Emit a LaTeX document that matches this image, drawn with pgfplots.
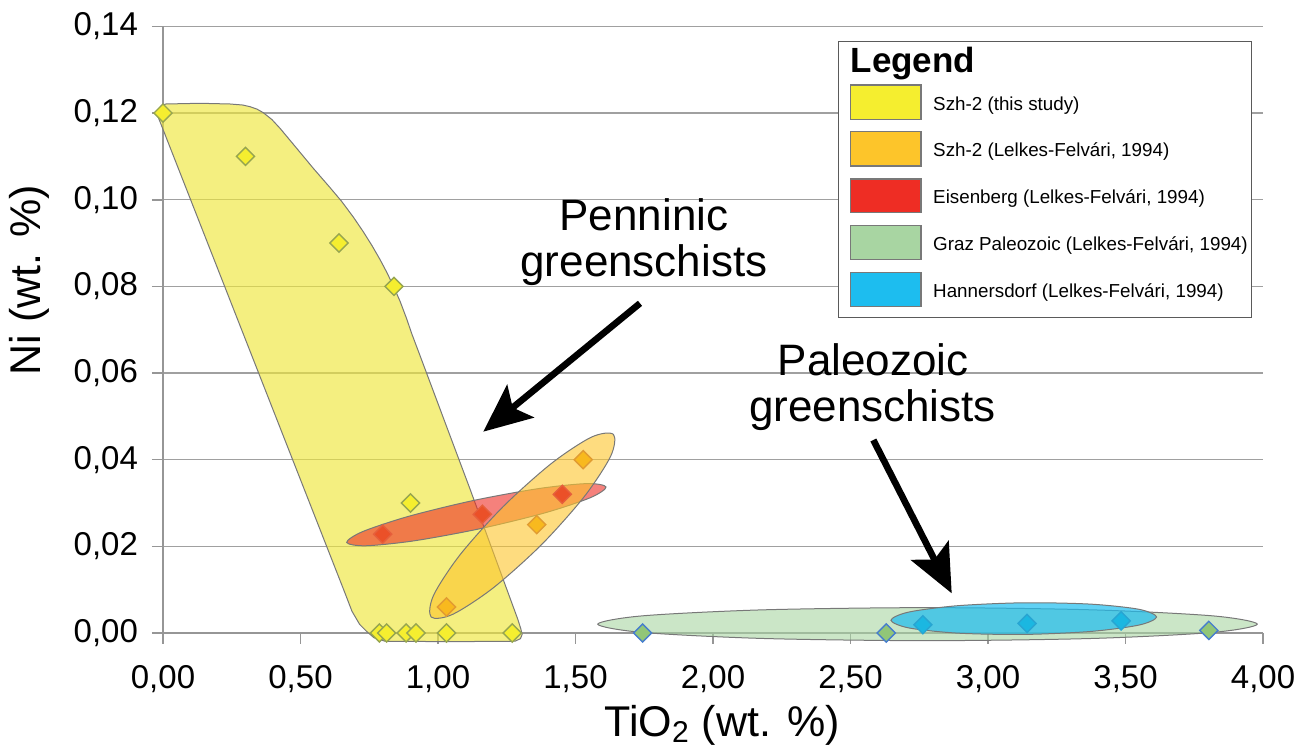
\documentclass[border=0pt]{standalone}
\usepackage{pgfplots}
\pgfplotsset{compat=1.18}
\usepackage{fontspec}
\setmainfont{Liberation Sans}
\usetikzlibrary{arrows.meta}
\definecolor{cYel}{RGB}{245,238,47}
\definecolor{cYelR}{RGB}{238,230,60}
\definecolor{cOra}{RGB}{253,197,42}
\definecolor{cRed}{RGB}{238,45,36}
\definecolor{cGrn}{RGB}{168,213,162}
\definecolor{cBlu}{RGB}{29,189,239}
\definecolor{axgray}{RGB}{150,150,150}
\definecolor{edgegray}{RGB}{120,120,120}
\begin{document}
\begin{tikzpicture}
\begin{axis}[
  name=ax, scale only axis, width=550pt, height=303.3pt,
  xmin=0, xmax=4, ymin=0, ymax=0.14,
  xtick={0,0.5,1,1.5,2,2.5,3,3.5,4},
  ytick={0,0.02,0.04,0.06,0.08,0.10,0.12,0.14},
  axis x line*=bottom, axis y line*=left,
  axis line style={draw=axgray, line width=0.8pt},
  ymajorgrids, grid style={draw=axgray!90, line width=0.75pt},
  tick align=outside, major tick length=5.5pt,
  tick style={draw=axgray, line width=0.8pt},
  ticklabel style={font=\fontsize{16.5}{19}\selectfont},
  xticklabel style={yshift=-7pt},
  yticklabel style={xshift=-3.5pt},
  /pgf/number format/.cd, fixed, fixed zerofill, precision=2, use comma, assume math mode=true,
  /pgfplots/.cd,
  xlabel={TiO\textsubscript{2} (wt. \%)},
  ylabel={Ni (wt. \%)},
  xlabel style={font=\fontsize{21.5}{25}\selectfont, at={(axis description cs:0.5082,-0.1698)}, anchor=base},
  ylabel style={font=\fontsize{21.5}{25}\selectfont, at={(axis description cs:-0.1218,0.582)}, anchor=center},
  clip=false,
]
% Szh-2 (this study) field
\addplot[line join=round, draw=edgegray, line width=0.5pt, fill=cYelR, fill opacity=0.65] coordinates {
 (-0.0229,0.11994) (-0.0150,0.1210) (-0.0050,0.1218) (0.0109,0.12209) (0.1345,0.12225) (0.2436,0.12209)
 (0.2900,0.12185) (0.3164,0.12147) (0.3420,0.12090) (0.3647,0.12008) (0.3960,0.11850) (0.4255,0.11648)
 (0.4862,0.11186) (0.5465,0.10725) (0.6073,0.10280) (0.6498,0.09960) (0.6920,0.09600) (0.7284,0.09260)
 (0.7600,0.08940) (0.7891,0.08620) (0.8150,0.08310) (0.8375,0.08010) (0.8618,0.07660)
 (0.8850,0.07270) (0.9050,0.06900) (0.9300,0.06480) (1.1164,0.03323) (1.2900,0.00320)
 (1.3010,0.00100) (1.3060,-0.0003) (1.3000,-0.0013) (1.2800,-0.0019) (1.0436,-0.0020)
 (0.8073,-0.0019) (0.7673,-0.0011) (0.7400,0.0004) (0.7150,0.0020) (0.6873,0.0050)
 (0.6600,0.0095)} -- cycle;
% Eisenberg field
\addplot[smooth cycle, draw=edgegray, line width=0.5pt, fill=cRed, fill opacity=0.6] coordinates {
 (1.611,0.03369) (1.553,0.03120) (1.385,0.02766) (1.150,0.02403) (0.913,0.02127) (0.737,0.02013)
 (0.668,0.02091) (0.726,0.02340) (0.894,0.02694) (1.128,0.03057) (1.366,0.03333) (1.542,0.03448)};
% Szh-2 (Lelkes-Felvari) field
\addplot[smooth cycle, draw=edgegray, line width=0.5pt, fill=cOra, fill opacity=0.6] coordinates {
 (1.638,0.04583) (1.628,0.04081) (1.532,0.03149) (1.376,0.02036) (1.201,0.01042) (1.054,0.00432)
 (0.975,0.00369) (0.984,0.00872) (1.080,0.01804) (1.237,0.02917) (1.412,0.03911) (1.558,0.04521)};
% Graz Paleozoic field
\addplot[smooth cycle, draw=edgegray, line width=0.5pt, fill=cGrn, fill opacity=0.6] coordinates {
 (3.979,0.00204) (3.818,0.00395) (3.380,0.00534) (2.780,0.00585) (2.180,0.00534) (1.742,0.00395)
 (1.581,0.00204) (1.742,0.00014) (2.180,-0.00126) (2.780,-0.00177) (3.380,-0.00126) (3.818,0.00014)};
% Hannersdorf field
\addplot[smooth cycle, draw=edgegray, line width=0.5pt, fill=cBlu, fill opacity=0.7] coordinates {
 (3.613,0.00370) (3.548,0.00548) (3.371,0.00667) (3.129,0.00697) (2.888,0.00629) (2.711,0.00482)
 (2.647,0.00294) (2.712,0.00117) (2.889,-0.00003) (3.131,-0.00033) (3.372,0.00035) (3.549,0.00183)};
% data points
\addplot[only marks, mark=square*, mark size=3.2pt, mark options={rotate=45, fill=cYel, draw={rgb,255:red,150;green,165;blue,80}, line width=0.7pt}] coordinates {
 (0.00,0.120) (0.30,0.110) (0.64,0.090) (0.84,0.080) (0.90,0.030)
 (0.787,0) (0.813,0) (0.884,0) (0.920,0) (1.031,0) (1.270,0)};
\addplot[only marks, mark=square*, mark size=3.2pt, mark options={rotate=45, fill={rgb,255:red,248;green,185;blue,30}, draw={rgb,255:red,225;green,155;blue,50}, line width=0.7pt}] coordinates {
 (1.031,0.006) (1.359,0.025) (1.528,0.040)};
\addplot[only marks, mark=square*, mark size=3.2pt, mark options={rotate=45, fill={rgb,255:red,235;green,80;blue,40}, draw={rgb,255:red,230;green,95;blue,60}, line width=0.7pt}] coordinates {
 (0.799,0.0228) (1.161,0.0274) (1.452,0.0320)};
\addplot[only marks, mark=square*, mark size=3.2pt, mark options={rotate=45, fill={rgb,255:red,145;green,198;blue,120}, draw={rgb,255:red,70;green,125;blue,205}, line width=0.7pt}] coordinates {
 (1.744,0.0) (2.630,0.0) (3.803,0.0006)};
\addplot[only marks, mark=square*, mark size=3.2pt, mark options={rotate=45, fill={rgb,255:red,27;green,183;blue,225}, draw={rgb,255:red,40;green,165;blue,210}, line width=0.7pt}] coordinates {
 (2.763,0.0019) (3.142,0.0022) (3.484,0.0028)};
% arrows
\addplot[black, line width=3.3pt, -{Stealth[length=24pt,width=21pt,inset=5pt]}] coordinates {(1.7345,0.07609) (1.1647,0.04646)};
\addplot[black, line width=3.3pt, -{Stealth[length=24pt,width=21pt,inset=5pt]}] coordinates {(2.583,0.04454) (2.868,0.00916)};
\node[anchor=base, inner sep=0pt, font=\fontsize{22}{26}\selectfont] at (axis cs:1.749,0.0930) {Penninic};
\node[anchor=base, inner sep=0pt, font=\fontsize{22}{26}\selectfont] at (axis cs:1.749,0.0822) {greenschists};
\node[anchor=base, inner sep=0pt, font=\fontsize{22}{26}\selectfont] at (axis cs:2.583,0.05938) {Paleozoic};
\node[anchor=base, inner sep=0pt, font=\fontsize{22}{26}\selectfont] at (axis cs:2.580,0.04877) {greenschists};
% legend
\addplot[draw={rgb,255:red,90;green,90;blue,90}, line width=0.7pt, fill=white] coordinates {
 (2.456,0.13647) (3.959,0.13647) (3.959,0.07286) (2.456,0.07286)} -- cycle;
\addplot[draw=edgegray, line width=0.6pt, fill=cYel] coordinates {(2.4993,0.12647) (2.7564,0.12647) (2.7564,0.11856) (2.4993,0.11856)} -- cycle;
\addplot[draw=edgegray, line width=0.6pt, fill=cOra] coordinates {(2.4993,0.11570) (2.7564,0.11570) (2.7564,0.10778) (2.4993,0.10778)} -- cycle;
\addplot[draw=edgegray, line width=0.6pt, fill=cRed] coordinates {(2.4993,0.10478) (2.7564,0.10478) (2.7564,0.09700) (2.4993,0.09700)} -- cycle;
\addplot[draw=edgegray, line width=0.6pt, fill=cGrn] coordinates {(2.4993,0.09400) (2.7564,0.09400) (2.7564,0.08625) (2.4993,0.08625)} -- cycle;
\addplot[draw=edgegray, line width=0.6pt, fill=cBlu] coordinates {(2.4993,0.08324) (2.7564,0.08324) (2.7564,0.07531) (2.4993,0.07531)} -- cycle;
\node[anchor=base west, inner sep=0pt, font=\fontsize{17.5}{20}\selectfont\bfseries] at (axis cs:2.4993,0.12931) {Legend};
\node[anchor=base west, inner sep=0pt, font=\fontsize{9.4}{11}\selectfont] at (axis cs:2.7993,0.12059) {Szh-2 (this study)};
\node[anchor=base west, inner sep=0pt, font=\fontsize{9.4}{11}\selectfont] at (axis cs:2.7993,0.10997) {Szh-2 (Lelkes-Felvári, 1994)};
\node[anchor=base west, inner sep=0pt, font=\fontsize{9.4}{11}\selectfont] at (axis cs:2.7993,0.09912) {Eisenberg (Lelkes-Felvári, 1994)};
\node[anchor=base west, inner sep=0pt, font=\fontsize{9.4}{11}\selectfont] at (axis cs:2.7993,0.08826) {Graz Paleozoic (Lelkes-Felvári, 1994)};
\node[anchor=base west, inner sep=0pt, font=\fontsize{9.4}{11}\selectfont] at (axis cs:2.7993,0.07741) {Hannersdorf (Lelkes-Felvári, 1994)};
\end{axis}
\pgfresetboundingbox
\path ([shift={(-81.5pt,-57pt)}]ax.south west) rectangle ([shift={(20.5pt,13.2pt)}]ax.north east);
\end{tikzpicture}
\end{document}
